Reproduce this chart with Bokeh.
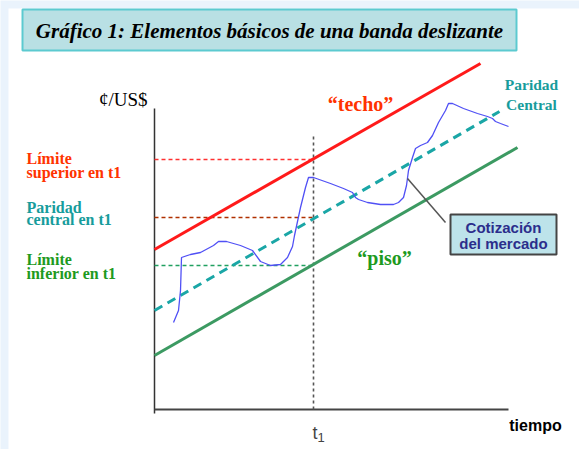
from bokeh.plotting import figure
from bokeh.models import Range1d
from bokeh.core.properties import value
from bokeh.embed import file_html
from bokeh.resources import INLINE

# --- data (time on x, exchange rate on y, arbitrary units) ---
t1 = 159
# band edges: start/end points of each straight line
techo_t = [0, 326]
techo_y = [160, 346]
central_t = [0, 345]
central_y = [99, 298]
piso_t = [0, 363]
piso_y = [54, 262]
# band values at t1
limite_superior_t1 = 250
paridad_central_t1 = 192
limite_inferior_t1 = 144
# market quote path
cotiz_t = [19, 24, 26, 27, 36, 46, 59, 64, 72, 86, 98, 106, 116, 126, 133, 138,
           140, 146, 151, 154, 159, 176, 189, 198, 201, 204, 213, 226, 239, 244,
           249, 252, 254, 258, 261, 266, 273, 278, 284, 291, 294, 298, 309, 323,
           333, 338, 341, 346, 354]
cotiz_y = [87, 99, 119, 152, 155, 157, 164, 168, 168, 164, 159, 148, 144, 145, 152, 163,
           174, 202, 222, 232, 232, 226, 221, 217, 212, 210, 207, 205, 205, 207,
           212, 224, 239, 252, 261, 264, 267, 274, 287, 299, 306, 306, 301, 296,
           293, 291, 288, 286, 283]
t_max = 354
y_max = 301

SERIF = value("Liberation Serif")
SANS = value("Liberation Sans")

p = figure(width=579, height=449, output_backend="svg", toolbar_location=None,
           x_range=Range1d(-154, 425), y_range=Range1d(-40, 409),
           min_border=0, background_fill_color="#EAF3FC",
           border_fill_color="#EAF3FC", outline_line_color=None)
p.axis.visible = False
p.grid.visible = False

# white page area
p.quad(left=-146, right=425, top=401, bottom=-40, fill_color="white", line_color=None)

# title box
p.quad(left=-132, right=362, top=400, bottom=359, fill_color="#B9E0E4",
       line_color="#5CCAD0", line_width=2)
p.text(x=[115], y=[379], text=["Gráfico 1: Elementos básicos de una banda deslizante"],
       text_font=SERIF, text_font_style="bold italic", text_font_size="21px",
       text_align="center", text_baseline="middle", text_color="black")

# axes
p.line(x=[0, 0], y=[-4, y_max], line_color="#333333", line_width=1.5)
p.line(x=[0, t_max], y=[0, 0], line_color="#444444", line_width=2)

# reference lines at t1
p.segment(x0=[t1], y0=[0], x1=[t1], y1=[274], line_color="#555555",
          line_width=1.6, line_dash="3 3")
p.segment(x0=[0, 0, 0], x1=[t1, t1, t1],
          y0=[limite_superior_t1, paridad_central_t1, limite_inferior_t1],
          y1=[limite_superior_t1, paridad_central_t1, limite_inferior_t1],
          line_color=["#FF3030", "#B03000", "#20A060"], line_width=1.5, line_dash="4 3")

# band
p.line(x=piso_t, y=piso_y, line_color="#3C9A62", line_width=3)
p.line(x=central_t, y=central_y, line_color="#1AA6A6", line_width=3, line_dash="9 6")
p.line(x=techo_t, y=techo_y, line_color="#FF1A1A", line_width=3)

# market quote
p.line(x=cotiz_t, y=cotiz_y, line_color="#5050F5", line_width=1.3)

# callout
p.line(x=[253, 291], y=[231, 187], line_color="#555555", line_width=1.5)
p.quad(left=296, right=402, top=195, bottom=155, fill_color="#BDE3EA",
       line_color="#444444", line_width=2)
p.text(x=[349, 349], y=[182, 166], text=["Cotización", "del mercado"],
       text_font=SANS, text_font_style="bold", text_font_size="15px",
       text_align="center", text_baseline="middle", text_color="#2B2E8C")

# left labels
p.text(x=[-7], y=[310], text=["¢/US$"], text_font=SERIF, text_font_size="19px",
       text_align="right", text_baseline="middle", text_color="black")
p.text(x=[-128, -128], y=[251, 237], text=["Límite", "superior en t1"],
       text_font=SERIF, text_font_style="bold", text_font_size="16px",
       text_align="left", text_baseline="middle", text_color="#FF3300")
p.text(x=[-128, -128], y=[202, 190], text=["Paridad", "central en t1"],
       text_font=SERIF, text_font_style="bold", text_font_size="16px",
       text_align="left", text_baseline="middle", text_color="#179C9C")
p.text(x=[-128, -128], y=[150, 136], text=["Límite", "inferior en t1"],
       text_font=SERIF, text_font_style="bold", text_font_size="16px",
       text_align="left", text_baseline="middle", text_color="#1E9A1E")

# line names
p.text(x=[206], y=[306], text=["“techo”"], text_font=SERIF, text_font_style="bold",
       text_font_size="20px", text_align="center", text_baseline="middle", text_color="#FF3300")
p.text(x=[230], y=[152], text=["“piso”"], text_font=SERIF, text_font_style="bold",
       text_font_size="20px", text_align="center", text_baseline="middle", text_color="#1E9A1E")
p.text(x=[377, 377], y=[325, 305], text=["Paridad", "Central"], text_font=SERIF,
       text_font_style="bold", text_font_size="15.5px", text_align="center",
       text_baseline="middle", text_color="#179C9C")

# x-axis labels
p.text(x=[381], y=[-16], text=["tiempo"], text_font=SANS, text_font_style="bold",
       text_font_size="16px", text_align="center", text_baseline="middle", text_color="black")
p.text(x=[163], y=[-23], text=["t"], text_font=SANS, text_font_size="18px",
       text_align="right", text_baseline="middle", text_color="#444444")
p.text(x=[163], y=[-28], text=["1"], text_font=SANS, text_font_size="13px",
       text_align="left", text_baseline="middle", text_color="#444444")

open("out.html", "w").write(file_html(p, INLINE))
